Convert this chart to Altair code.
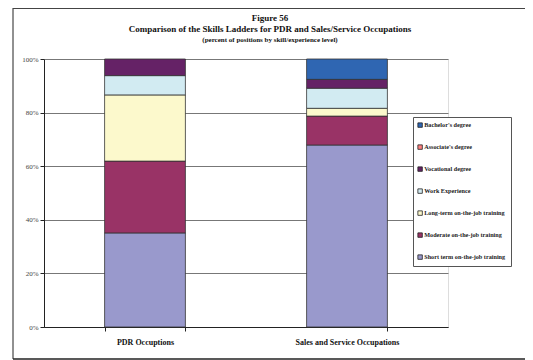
import altair as alt
import pandas as pd

occupations = ["PDR Occuptions", "Sales and Service Occupations"]
levels = [
    "Short term on-the-job training",
    "Moderate on-the-job training",
    "Long-term on-the-job training",
    "Work Experience",
    "Vocational degree",
    "Associate's degree",
    "Bachelor's degree",
]
pdr_values = [35.1, 26.8, 24.7, 7.2, 6.2, 0.0, 0.0]
sales_values = [67.9, 10.8, 2.9, 7.5, 3.3, 0.0, 7.6]
level_colors = ["#9999CC", "#993366", "#FCF9CC", "#D2EBF2", "#652266", "#FF8080", "#2F66B2"]
y_ticks = [0, 20, 40, 60, 80, 100]

title_line1 = "Figure 56"
title_line2 = "Comparison of the Skills Ladders for PDR and Sales/Service Occupations"
title_line3 = "(percent of positions by skill/experience level)"

rows = []
for occ, vals in zip(occupations, [pdr_values, sales_values]):
    for rank, (lvl, v) in enumerate(zip(levels, vals)):
        if v > 0:
            rows.append({"occ": occ, "level": lvl, "pct": v, "rank": rank})
df = pd.DataFrame(rows)

legend_order = list(reversed(levels))
legend_colors = list(reversed(level_colors))

SERIF = "Liberation Serif"
W, H = 404, 268

bars = alt.Chart(df).mark_bar(stroke="#333333", strokeWidth=0.8).encode(
    x=alt.X(
        "occ:N",
        sort=occupations,
        scale=alt.Scale(paddingInner=0.6, paddingOuter=0.3),
        axis=alt.Axis(
            title=None, labelAngle=0, labelFont=SERIF, labelFontSize=8,
            labelFontWeight="bold", labelColor="#111", labelPadding=7,
            tickBand="extent", tickSize=4, tickColor="#222", domainColor="#222",
        ),
    ),
    y=alt.Y(
        "pct:Q",
        stack="zero",
        scale=alt.Scale(domain=[0, 100], nice=False),
        axis=alt.Axis(
            title=None, values=y_ticks, labelExpr="datum.value + '%'",
            labelFont=SERIF, labelFontSize=7, labelColor="#444",
            labelPadding=2, tickSize=4, tickColor="#222", domainColor="#222",
            grid=True, gridColor="#777", gridWidth=1,
        ),
    ),
    color=alt.Color(
        "level:N",
        scale=alt.Scale(domain=legend_order, range=legend_colors),
        legend=alt.Legend(
            orient="none", legendX=369, legendY=58, title=None,
            padding=5, rowPadding=14, symbolType="square", symbolSize=20,
            symbolStrokeColor="#222", symbolStrokeWidth=0.8, symbolOffset=-1,
            labelFont=SERIF, labelFontSize=6.2, labelFontWeight="bold",
            labelColor="#222", labelOffset=1, strokeColor="#555", fillColor="white",
        ),
    ),
    order=alt.Order("rank:Q", sort="ascending"),
)


def text_layer(txt, y, size):
    return alt.Chart(pd.DataFrame({"t": [txt]})).mark_text(
        font=SERIF, fontSize=size, fontWeight="bold", color="#111", align="center", baseline="middle"
    ).encode(text="t:N", x=alt.value(226), y=alt.value(y))


t1 = text_layer(title_line1, -41.5, 9)
t2 = text_layer(title_line2, -30.5, 9)
t3 = text_layer(title_line3, -19.5, 7)

border = pd.DataFrame({"k": [0]})
left_b = alt.Chart(border).mark_rule(color="#222", strokeWidth=1).encode(
    x=alt.value(-31), y=alt.value(-51), y2=alt.value(300))
top_b = alt.Chart(border).mark_rule(color="#444", strokeWidth=1).encode(
    x=alt.value(-31), x2=alt.value(489), y=alt.value(-50.5))
bot_b = alt.Chart(border).mark_rule(color="#222", strokeWidth=1.5).encode(
    x=alt.value(-31), x2=alt.value(489), y=alt.value(300))

chart = alt.layer(bars, t1, t2, t3, left_b, top_b, bot_b).properties(
    width=W, height=H,
    autosize=alt.AutoSizeParams(type="none"),
    padding={"left": 36, "top": 51, "right": 77, "bottom": 33},
).configure_view(stroke="#888", strokeWidth=1).configure(background="white")

chart.save("out.html", embed_options={"renderer": "svg", "actions": False})
